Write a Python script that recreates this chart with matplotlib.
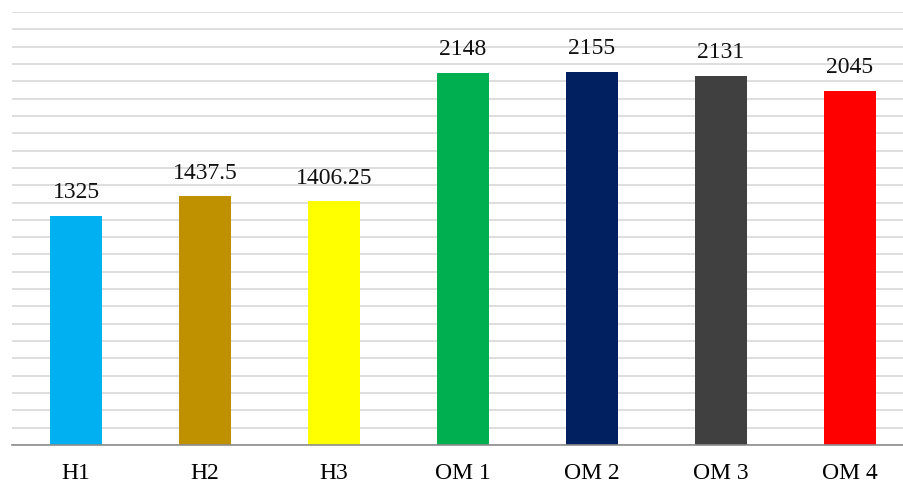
import matplotlib
matplotlib.use('Agg')
import matplotlib.pyplot as plt
import numpy as np

# Data ------------------------------------------------------------------------
groups = ['H1', 'H2', 'H3', 'OM 1', 'OM 2', 'OM 3', 'OM 4']
values = [1325, 1437.5, 1406.25, 2148, 2155, 2131, 2045]
labels = ['1325', '1437.5', '1406.25', '2148', '2155', '2131', '2045']
barColors = ['#00B0F0', '#BF9000', '#FFFF00', '#00B050', '#002060', '#404040', '#FF0000']

plt.rcParams['font.family'] = ['Liberation Serif', 'DejaVu Serif']

fig = plt.figure(figsize=(9.04, 4.84), dpi=100)
# plot area runs a little past the right edge of the picture
ax = fig.add_axes([11.5/904, 39/484, 903/904, 433/484])

x = np.arange(len(groups))
ax.bar(x, values, width=0.405, color=barColors, zorder=2)
for xi, v, t in zip(x, values, labels):
    ax.annotate(t, (xi, v), xytext=(0, 9), textcoords='offset points',
                ha='center', va='bottom', fontsize=17, color='#111111')

ax.set_xlim(-0.5, len(groups) - 0.5)
ax.set_ylim(0, 2500)
ax.set_yticks(np.arange(0, 2501, 100))
ax.yaxis.grid(True, color='#d4d4d4', linewidth=1.1, zorder=0)
ax.set_axisbelow(True)
ax.tick_params(axis='y', left=False, labelleft=False)
ax.tick_params(axis='x', bottom=False, labelsize=17, pad=9.5)
ax.set_xticks(x)
ax.set_xticklabels(groups)
for s in ['top', 'right', 'left']:
    ax.spines[s].set_visible(False)
ax.spines['bottom'].set_color('#8c8c8c')
ax.spines['bottom'].set_linewidth(1.2)

plt.savefig('out.png', dpi=100)
plt.close('all')
